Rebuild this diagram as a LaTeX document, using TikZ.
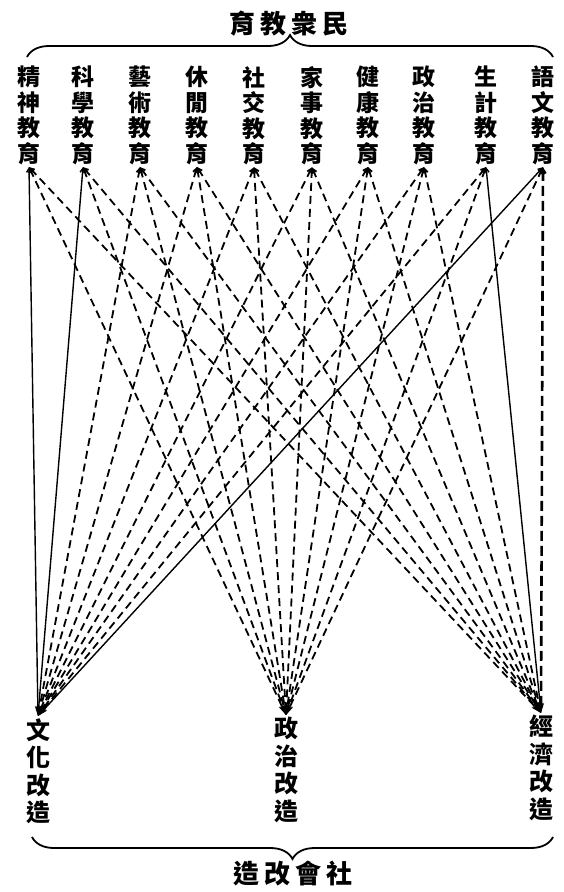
\documentclass[tikz,border=0pt]{standalone}
\usepackage{fontspec}
\newfontfamily\cjkfont{Noto Sans CJK TC}
\usetikzlibrary{arrows.meta,decorations.pathreplacing}
\tikzset{
  edunode/.style={anchor=north,align=center,inner sep=2pt,font=\cjkfont\bfseries\fontsize{23}{25.5}\selectfont},
  refnode/.style={anchor=north,align=center,inner sep=2pt,font=\cjkfont\bfseries\fontsize{24}{27.5}\selectfont},
  ttlnode/.style={inner sep=0pt,font=\cjkfont\bfseries\fontsize{26}{30}\selectfont},
  tie/.style={draw=black,line width=1.4pt,{Straight Barb[length=4pt,width=5pt]}-{Stealth[length=10pt,width=6pt]}},
  dtie/.style={tie,line width=1.8pt,dash pattern=on 8pt off 5pt},
  brc/.style={draw=black,line width=1.8pt,decorate,decoration={brace,amplitude=22pt}}
}
\begin{document}
\begin{tikzpicture}[x=1pt,y=-1pt]
\useasboundingbox (0,0) rectangle (563,892);
% titles and braces:
\node[ttlnode] (minzhong) at (289,24) {育\kern5pt 教\kern5pt 衆\kern5pt 民};
\node[ttlnode] (shehui) at (293,874) {造\kern5pt 改\kern5pt 會\kern5pt 社};
\path[brc] (27,57) -- (553,57);
\path[brc] (553,837) -- (32,837);
% education nodes:
\node[edunode] (jingshen) at (29,64) {精\\神\\教\\育};
\node[edunode] (kexue) at (83,64) {科\\學\\教\\育};
\node[edunode] (yishu) at (140,64) {藝\\術\\教\\育};
\node[edunode] (xiuxian) at (197,64) {休\\閒\\教\\育};
\node[edunode] (shejiao) at (254,64) {社\\交\\教\\育};
\node[edunode] (jiashi) at (312,64) {家\\事\\教\\育};
\node[edunode] (jiankang) at (368,64) {健\\康\\教\\育};
\node[edunode] (zhengjiao) at (424,64) {政\\治\\教\\育};
\node[edunode] (shengji) at (486,64) {生\\計\\教\\育};
\node[edunode] (yuwen) at (543,64) {語\\文\\教\\育};
% reform nodes:
\node[refnode] (wenhua) at (38,716) {文\\化\\改\\造};
\node[refnode] (zhengzhi) at (286,715) {政\\治\\改\\造};
\node[refnode] (jingji) at (541,713) {經\\濟\\改\\造};
% solid ties:
\path[tie] (jingshen.south) -- (wenhua.north);
\path[tie] (kexue.south) -- (wenhua.north);
\path[tie] (yuwen.south) -- (wenhua.north);
\path[tie] (shengji.south) -- (jingji.north);
% dashed ties to wenhua:
\path[dtie] (yishu.south) -- (wenhua.north);
\path[dtie] (xiuxian.south) -- (wenhua.north);
\path[dtie] (shejiao.south) -- (wenhua.north);
\path[dtie] (jiashi.south) -- (wenhua.north);
\path[dtie] (jiankang.south) -- (wenhua.north);
\path[dtie] (zhengjiao.south) -- (wenhua.north);
\path[dtie] (shengji.south) -- (wenhua.north);
% dashed ties to zhengzhi:
\path[dtie] (jingshen.south) -- (zhengzhi.north);
\path[dtie] (kexue.south) -- (zhengzhi.north);
\path[dtie] (yishu.south) -- (zhengzhi.north);
\path[dtie] (xiuxian.south) -- (zhengzhi.north);
\path[dtie] (shejiao.south) -- (zhengzhi.north);
\path[dtie] (jiashi.south) -- (zhengzhi.north);
\path[dtie] (jiankang.south) -- (zhengzhi.north);
\path[dtie] (zhengjiao.south) -- (zhengzhi.north);
\path[dtie] (shengji.south) -- (zhengzhi.north);
\path[dtie] (yuwen.south) -- (zhengzhi.north);
% dashed ties to jingji:
\path[dtie] (jingshen.south) -- (jingji.north);
\path[dtie] (kexue.south) -- (jingji.north);
\path[dtie] (yishu.south) -- (jingji.north);
\path[dtie] (xiuxian.south) -- (jingji.north);
\path[dtie] (shejiao.south) -- (jingji.north);
\path[dtie] (jiashi.south) -- (jingji.north);
\path[dtie] (jiankang.south) -- (jingji.north);
\path[dtie] (zhengjiao.south) -- (jingji.north);
\path[dtie,line width=2.6pt,dash pattern=on 10pt off 5pt] (yuwen.south) -- (jingji.north);
\end{tikzpicture}
\end{document}
